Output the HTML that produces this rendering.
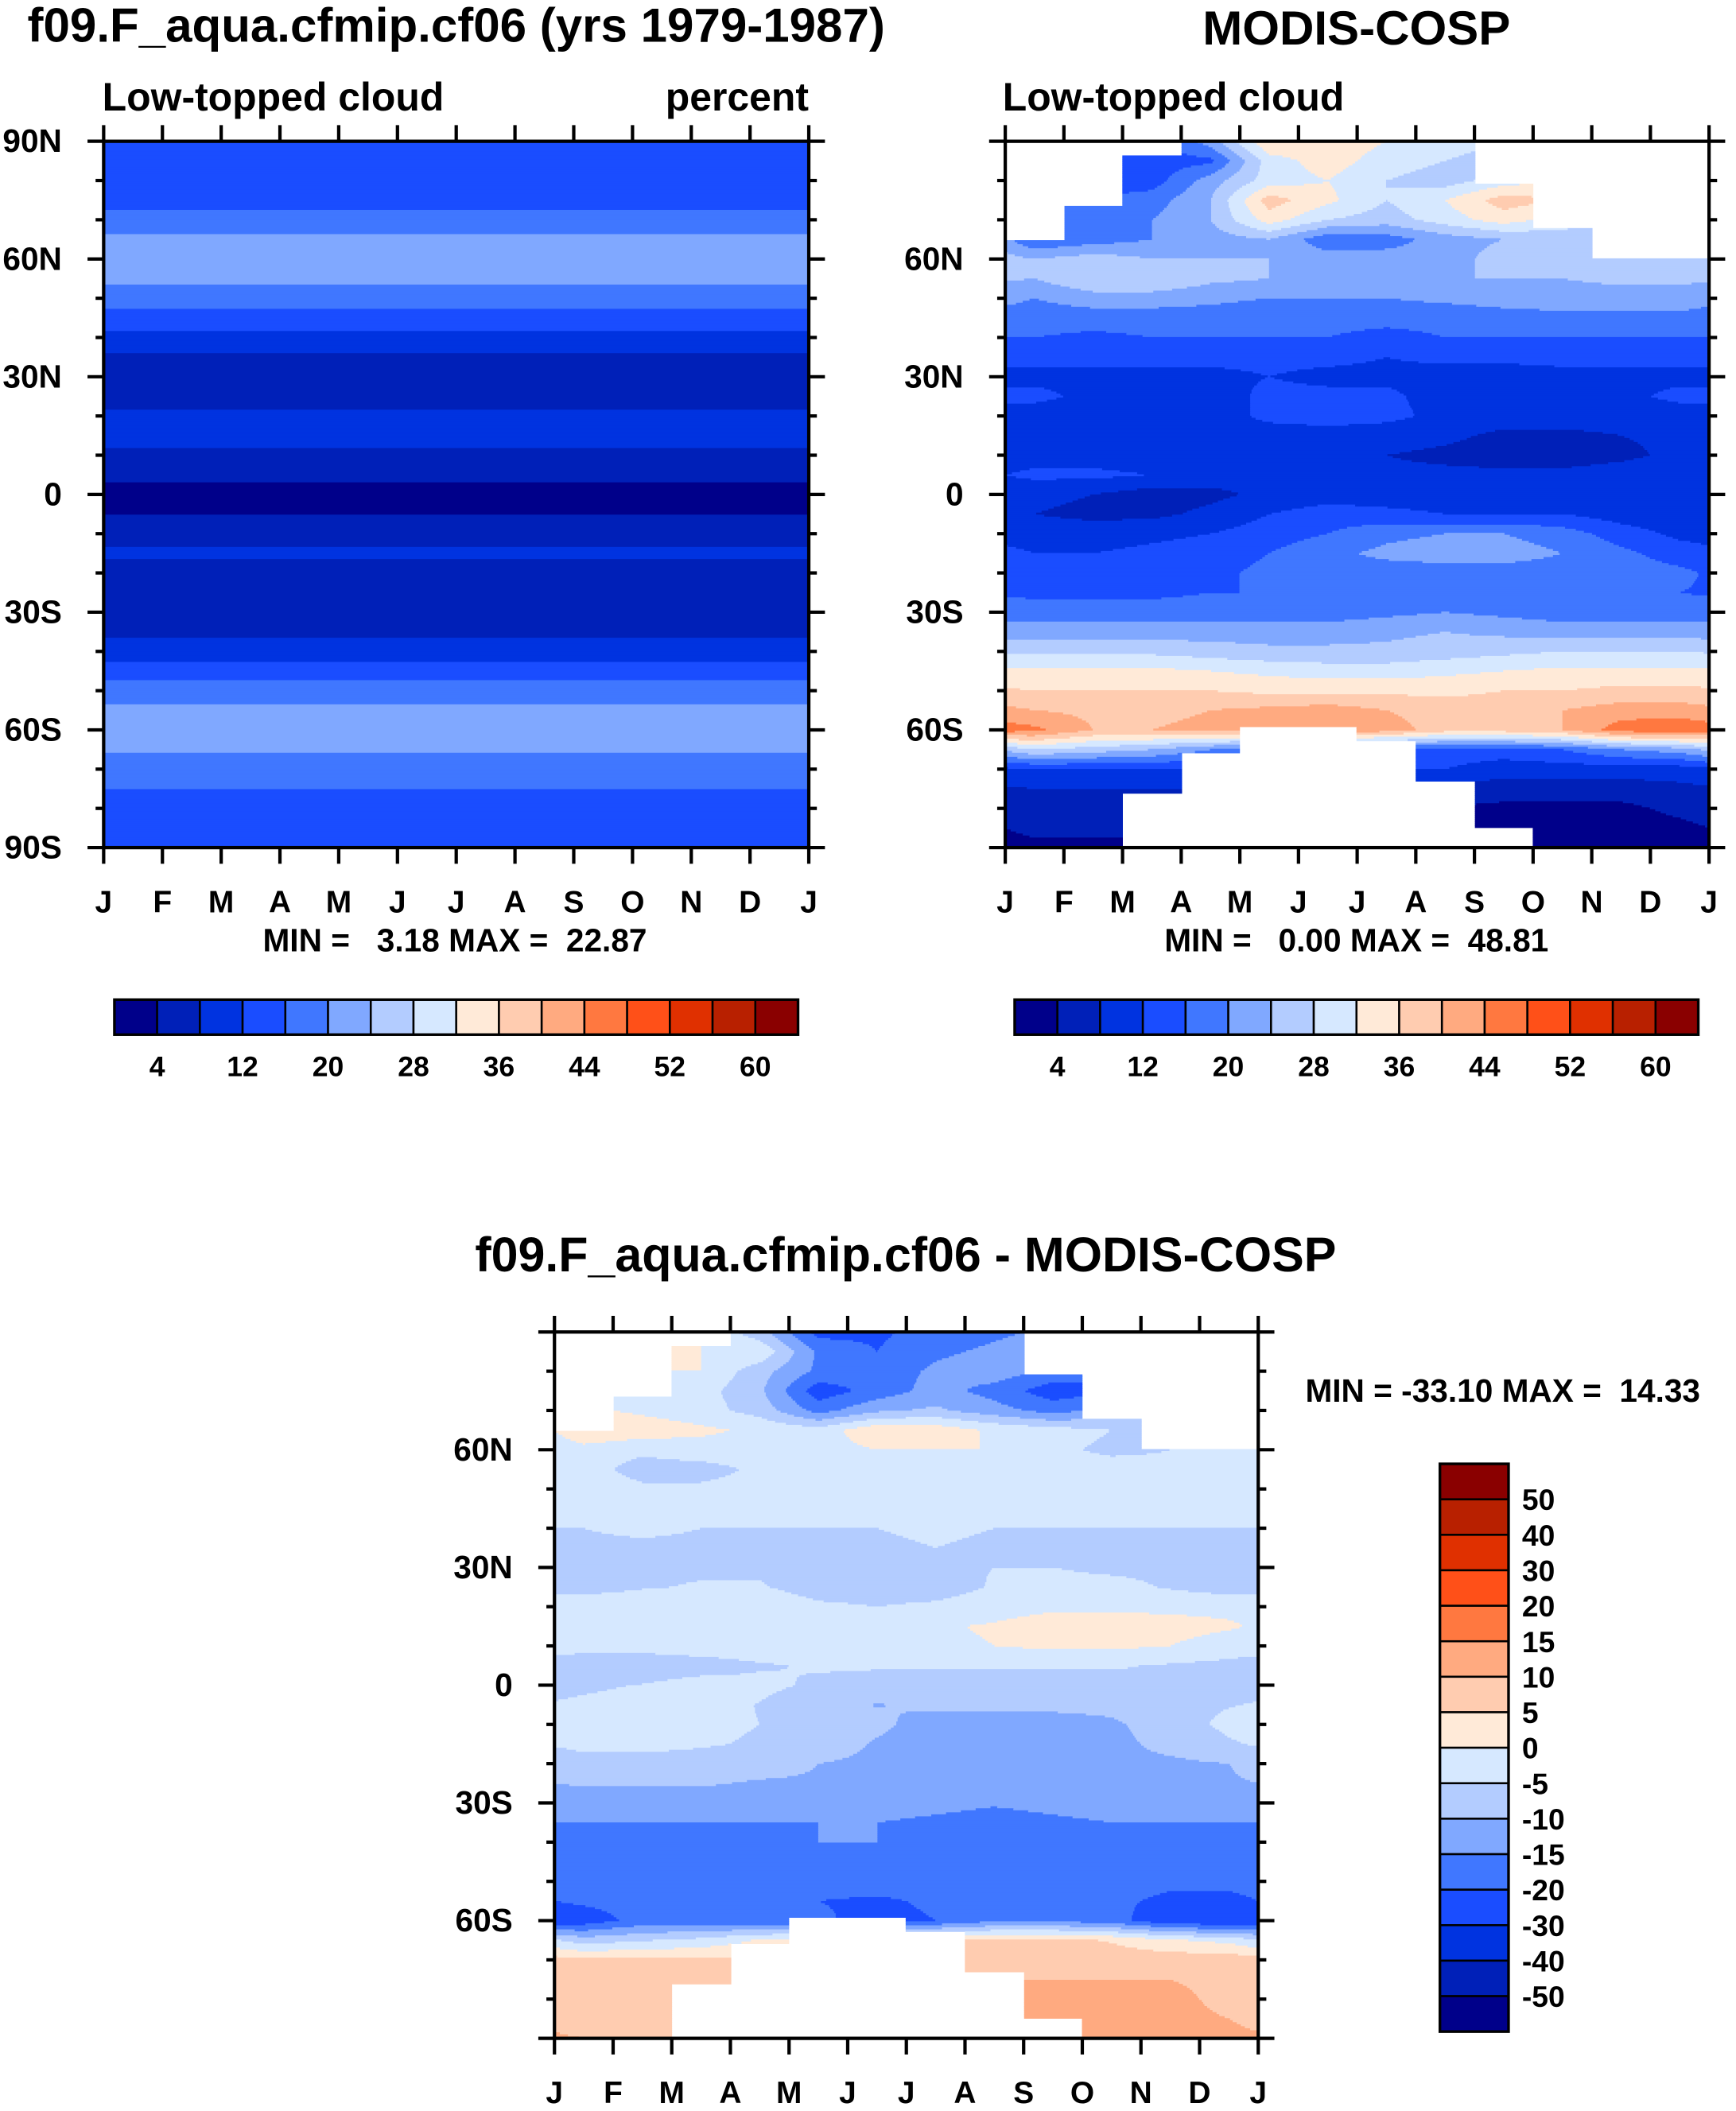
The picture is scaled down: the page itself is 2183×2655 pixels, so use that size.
<!DOCTYPE html>
<html><head><meta charset="utf-8">
<style>
html,body{margin:0;padding:0;background:#fff;}
svg{display:block;}
text{font-family:"Liberation Sans",Arial,sans-serif;font-weight:bold;fill:#000;}
</style></head>
<body>
<svg id="root" xmlns="http://www.w3.org/2000/svg" width="2183" height="2655" viewBox="0 0 1290 1569">
<rect x="0" y="0" width="1290" height="1569" fill="#fff"/>
<text x="339" y="31" font-size="35.5" text-anchor="middle">f09.F_aqua.cfmip.cf06 (yrs 1979-1987)</text>
<text x="76" y="82" font-size="29.5">Low-topped cloud</text>
<text x="601" y="82" font-size="29.5" text-anchor="end">percent</text>
<text x="1008" y="33" font-size="35.5" text-anchor="middle">MODIS-COSP</text>
<text x="745" y="82" font-size="29.5">Low-topped cloud</text>
<text x="673" y="945" font-size="36" text-anchor="middle">f09.F_aqua.cfmip.cf06 - MODIS-COSP</text>
<text x="338" y="707" font-size="24" text-anchor="middle" xml:space="preserve">MIN =   3.18 MAX =  22.87</text>
<text x="1008" y="707" font-size="24" text-anchor="middle" xml:space="preserve">MIN =   0.00 MAX =  48.81</text>
<text x="970" y="1042" font-size="24" xml:space="preserve">MIN = -33.10 MAX =  14.33</text>
</svg>
<script>
// ---- data ----
const months = ["J","F","M","A","M","J","J","A","S","O","N","D","J"];
const lats = [90,85,80,75,70,65,60,55,50,45,40,35,30,25,20,15,10,5,0,-5,-10,-15,-20,-25,-30,-35,-40,-45,-50,-55,-60,-65,-70,-75,-80,-85,-90];
const modelProfile = [14,14,14,15,17,21,22,21,18,14,11,7,5,5.5,9,9.5,7,4.5,3.2,3.8,7,8.5,7,5.5,5.5,7,10,14,18,21,22,20.5,18,16,14,13,13];
const obsGrid = [
[14,14,14,22,36,35,32,30,28,28,28,28],
[14,14,14,15,30,34,30,28,26,26,26,26],
[14,14,14,22,30,32,28,26,30,32,30,30],
[16,16,18,24,38,33,28,32,38,36,30,30],
[16,18,20,24,34,28,26,30,34,30,28,28],
[16,18,20,22,24,17,18,22,24,26,26,26],
[24,26,24,24,24,22,22,22,26,28,27,27],
[24,28,28,25,24,24,24,24,24,24,25,25],
[20,22,22,21,20,20,20,21,22,22,22,22],
[18,18,18,18,17,17,17,17,18,19,19,19],
[16,15,16,16,16,16,15,16,16,16,16,16],
[13,13,13,13,13,13,12,13,13,13,13,13],
[11,11,11,11,12,11,11,10,10,11,11,11],
[13,11,10,10,13,13,13,10,9,9,11,13],
[10,10,10,10,13,14,13,11,10,10,10,10],
[11,11,10,10,10,10,10,9,7,7,8,9],
[10,10,9,9,9,9,8,7,6,6,7,9],
[13,13,12,10,9,9,9,9,9,9,10,11],
[9,8,6,7,9,10,10,10,10,10,9,10],
[8,7,7,9,12,14,13,12,12,12,10,9],
[10,10,11,12,14,16,19,20,20,18,14,11],
[12,12,13,14,16,19,21,22,22,20,17,14],
[14,14,14,15,17,18,18,18,18,18,18,17],
[15,15,15,16,16,16,17,17,17,17,17,16],
[18,18,18,18,18,18,19,20,19,18,18,18],
[22,22,22,22,22,22,23,24,23,22,22,22],
[27,27,27,26,25,25,25,26,27,28,28,28],
[33,33,33,32,31,30,30,31,32,33,33,33],
[36,36,36,36,35,35,35,35,36,36,37,37],
[40,39,39,40,41,42,40,38,38,40,42,42],
[45,40,40,41,41,44,42,38,38,40,46,47],
[28,26,24,20,18,16,16,14,14,16,20,22],
[12,12,12,12,12,12,12,12,10,10,10,10],
[8,8,8,8,8,8,8,6,6,6,6,7],
[7,7,7,7,7,7,7,4,3,3,3,5],
[5,5,5,5,5,5,5,3,2,2,2,3],
[3,3,3,3,3,3,3,2,2,2,2,2]];
const obsNorthLimit = [65,73.5,86.6,90,90,90,90,90,79,67.7,60.2,60.2];
const obsSouthLimit = [-90,-90,-76.3,-66,-59.1,-59.1,-62.6,-72.9,-84.9,-90,-90,-90];
const pctLevels = [4,8,12,16,20,24,28,32,36,40,44,48,52,56,60];
const pctLabels = ["4","12","20","28","36","44","52","60"];
const diffLevels = [-50,-40,-30,-20,-15,-10,-5,0,5,10,15,20,30,40,50];
const diffLabels = ["50","40","30","20","15","10","5","0","-5","-10","-15","-20","-30","-40","-50"];
const colors = ["#00008a","#0020b8","#0033e0","#1a4dff","#4077ff","#80a8ff","#b3ccff","#d6e8ff","#ffead8","#ffccb0","#ffaa80","#ff7840","#ff5018","#e03000","#b82000","#8a0000"];

// ---- drawing ----
const NS="http://www.w3.org/2000/svg";
const root=document.getElementById('root');
function mk(tag,attrs,parent){const e=document.createElementNS(NS,tag);for(const k in attrs)e.setAttribute(k,attrs[k]);(parent||root).appendChild(e);return e;}
function levelIndex(v,lv){let i=0;while(i<lv.length&&v>=lv[i])i++;return i;}
function latScale(lat,y0,h){return y0+(90-lat)/180*h;}
function interpProfile(lat){const k=(90-lat)/5;const i=Math.min(35,Math.max(0,Math.floor(k)));const t=k-i;return modelProfile[i]*(1-t)+modelProfile[i+1]*t;}
function interpGrid(grid,lat,m){const k=(90-lat)/5;const i=Math.min(35,Math.max(0,Math.floor(k)));const t=k-i;
 const mm=m-0.5;let j=Math.floor(mm);const s=mm-j;const j0=(j+12)%12,j1=(j+13)%12;
 const a=grid[i][j0]*(1-s)+grid[i][j1]*s;const b=grid[i+1][j0]*(1-s)+grid[i+1][j1]*s;return a*(1-t)+b*t;}

function drawField(name,x0,y0,w,h,fn,lv,masked){
 const g=mk('g',{});
 
 
 const dy=1.5;
 for(let y=0;y<h;y+=dy){
  const lat=90-(y+dy/2)/h*180;
  let runStart=-1,runCol=null;
  for(let x=0;x<=w;x++){
   let col=null;
   if(x<w){const m=(x+0.5)/w*12;const mi=Math.min(11,Math.floor(m));
    if(!(masked&&(lat>obsNorthLimit[mi]||lat<obsSouthLimit[mi]))){col=colors[levelIndex(fn(lat,m),lv)];}}
   if(col!==runCol){
    if(runCol!==null){mk('rect',{x:x0+runStart,y:y0+y,width:x-runStart+0.4,height:dy+0.4,fill:runCol},g);}
    runCol=col;runStart=x;}
  }
 }
}
function drawAxes(name,x0,y0,w,h,ylabels){
 const g=mk('g',{});
 
 
 mk('rect',{x:x0,y:y0,width:w,height:h,fill:'none',stroke:'#000','stroke-width':2.5},g);
 for(let i=0;i<=12;i++){const x=x0+i*w/12;
  mk('line',{x1:x,y1:y0,x2:x,y2:y0-12,stroke:'#000','stroke-width':2.5},g);
  mk('line',{x1:x,y1:y0+h,x2:x,y2:y0+h+12,stroke:'#000','stroke-width':2.5},g);
  const t=mk('text',{x:x,y:y0+h+48,'font-size':23,'text-anchor':'middle'},g);t.textContent=months[i];
  
  }
 for(let lat=90;lat>=-90;lat-=10){const y=latScale(lat,y0,h);const major=lat%30===0;const L=major?12:6;
  mk('line',{x1:x0,y1:y,x2:x0-L,y2:y,stroke:'#000','stroke-width':2.5},g);
  mk('line',{x1:x0+w,y1:y,x2:x0+w+L,y2:y,stroke:'#000','stroke-width':2.5},g);
  if(major){const lab=lat===0?'0':Math.abs(lat)+(lat>0?'N':'S');
   if(ylabels.indexOf(lab)>=0){const t=mk('text',{x:x0-31,y:y+8,'font-size':24,'text-anchor':'end'},g);t.textContent=lab;
    
    }}}
}
function hColorbar(name,x0,y0,w,h){
 const g=mk('g',{});
 
 
 const bw=w/16;
 colors.forEach((c,i)=>{mk('rect',{x:x0+i*bw,y:y0,width:bw,height:h,fill:c,stroke:'#000','stroke-width':1.5},g);});
 mk('rect',{x:x0,y:y0,width:w,height:h,fill:'none',stroke:'#000','stroke-width':2},g);
 pctLabels.forEach((l,i)=>{const t=mk('text',{x:x0+(1+2*i)*bw,y:y0+57,'font-size':21,'text-anchor':'middle'},g);t.textContent=l;
  
  });
}
function vColorbar(name,x0,y0,w,h){
 const g=mk('g',{});
 
 
 const bh=h/16;
 for(let i=0;i<16;i++){mk('rect',{x:x0,y:y0+i*bh,width:w,height:bh,fill:colors[15-i],stroke:'#000','stroke-width':1.5},g);}
 mk('rect',{x:x0,y:y0,width:w,height:h,fill:'none',stroke:'#000','stroke-width':2},g);
 diffLabels.forEach((l,i)=>{const t=mk('text',{x:x0+w+10,y:y0+(i+1)*bh+8,'font-size':22},g);t.textContent=l;
  
  });
}

drawField('model-field',77,105,524,525,(lat,m)=>interpProfile(lat),pctLevels,false);
drawAxes('model-axes',77,105,524,525,['90N','60N','30N','0','30S','60S','90S']);
drawField('obs-field',747,105,523,525,(lat,m)=>interpGrid(obsGrid,lat,m),pctLevels,true);
drawAxes('obs-axes',747,105,523,525,['60N','30N','0','30S','60S']);
drawField('diff-field',412,990,523,525,(lat,m)=>interpProfile(lat)-interpGrid(obsGrid,lat,m),diffLevels,true);
drawAxes('diff-axes',412,990,523,525,['60N','30N','0','30S','60S']);
hColorbar('model-colorbar',85,743,508,26);
hColorbar('obs-colorbar',754,743,508,26);
vColorbar('diff-colorbar',1070,1088,51,422);
</script>
</body></html>
